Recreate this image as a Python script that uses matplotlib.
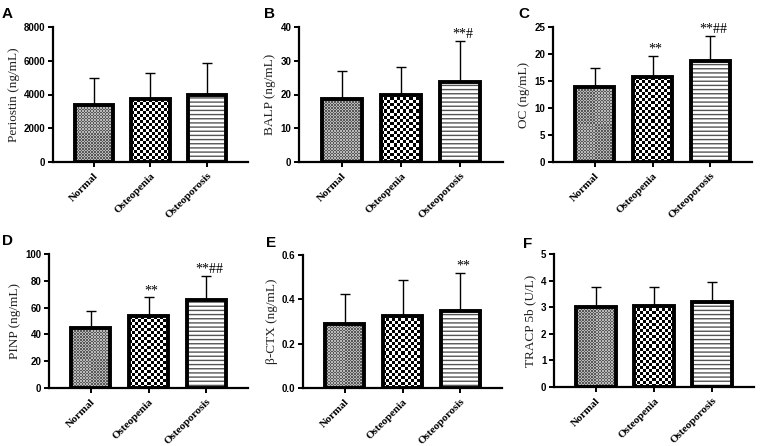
import numpy as np
import matplotlib
matplotlib.use("Agg")
import matplotlib.pyplot as plt

groups = ["Normal", "Osteopenia", "Osteoporosis"]

periostin = [3400, 3720, 3950]
periostin_sd = [1600, 1560, 1920]
balp = [18.8, 20.0, 23.6]
balp_sd = [8.2, 8.1, 12.3]
oc = [13.95, 15.7, 18.7]
oc_sd = [3.45, 4.0, 4.7]
pinp = [44.8, 53.5, 65.9]
pinp_sd = [12.4, 14.2, 17.4]
ctx = [0.288, 0.327, 0.348]
ctx_sd = [0.135, 0.158, 0.171]
tracp = [2.99, 3.06, 3.18]
tracp_sd = [0.76, 0.69, 0.75]

panels = [
    ("A", "Periostin (ng/mL)", periostin, periostin_sd, (0, 8000), [0, 2000, 4000, 6000, 8000], "%d", ["", "", ""]),
    ("B", "BALP (ng/mL)", balp, balp_sd, (0, 40), [0, 10, 20, 30, 40], "%d", ["", "", "**#"]),
    ("C", "OC (ng/mL)", oc, oc_sd, (0, 25), [0, 5, 10, 15, 20, 25], "%d", ["", "**", "**##"]),
    ("D", "PINP (ng/mL)", pinp, pinp_sd, (0, 100), [0, 20, 40, 60, 80, 100], "%d", ["", "**", "**##"]),
    ("E", "\u03b2-CTX (ng/mL)", ctx, ctx_sd, (0, 0.6), [0.0, 0.2, 0.4, 0.6], "%.1f", ["", "", "**"]),
    ("F", "TRACP 5b (U/L)", tracp, tracp_sd, (0, 5), [0, 1, 2, 3, 4, 5], "%d", ["", "", ""]),
]

W, H = 764, 446
# axes boxes in pixels: left, right, top, bottom
boxes = [
    (53, 248, 27, 162), (299, 503, 27, 162), (553, 752, 27, 162),
    (49, 248, 254, 388), (303, 502, 255, 388), (554, 754, 254, 387),
]
letters_xy = [(2, 7), (264, 7), (518, 7), (2, 234), (266, 236), (523, 237)]

serif = "Liberation Serif"
sans = "Liberation Sans"


def checker_fill(ax, bar, cell_px, lo, hi):
    # checkerboard fill clipped to the bar
    x0, y0 = bar.get_x(), bar.get_y()
    w, h = bar.get_width(), bar.get_height()
    p0 = ax.transData.transform((x0, y0))
    p1 = ax.transData.transform((x0 + w, y0 + h))
    nx = max(1, int(round((p1[0] - p0[0]) / cell_px)))
    ny = max(1, int(round((p1[1] - p0[1]) / cell_px)))
    img = (np.indices((ny, nx)).sum(axis=0) % 2) * (hi - lo) + lo
    im = ax.imshow(img, cmap="gray", vmin=0, vmax=1, extent=(x0, x0 + w, y0, y0 + h),
                   interpolation="nearest", aspect="auto", zorder=2)
    im.set_clip_path(bar)


fig = plt.figure(figsize=(W / 100, H / 100), dpi=100)

for (letter, ylabel, vals, sds, ylim, yticks, fmt, marks), (l, r, t, b), (lx, ly) in zip(panels, boxes, letters_xy):
    ax = fig.add_axes([l / W, 1 - b / H, (r - l) / W, (b - t) / H])
    x = np.arange(len(groups))
    ax.errorbar(x, vals, yerr=[np.zeros(3), sds], fmt="none", ecolor="black",
                elinewidth=1.0, capsize=3.6, capthick=1.0, zorder=1)
    fills = ax.bar(x, vals, width=0.68, color="white", edgecolor="none", zorder=1.5)
    ax.set_xlim(-0.72, 2.72)
    ax.set_ylim(*ylim)
    checker_fill(ax, fills[0], 1.5, 0.35, 0.72)
    checker_fill(ax, fills[1], 3.0, 0.0, 1.0)
    ax.bar(x[2:], vals[2:], width=0.68, color="white", edgecolor="#555555",
           hatch="----", linewidth=0, zorder=2)
    ax.bar(x, vals, width=0.68, color="none", edgecolor="black", linewidth=2.8, zorder=3)

    for xi, v, s, m in zip(x, vals, sds, marks):
        if m:
            ax.text(xi + 0.05, v + s, m, ha="center", va="bottom", fontsize=10,
                    family=serif, color="black", zorder=4)

    ax.spines["top"].set_visible(False)
    ax.spines["right"].set_visible(False)
    ax.spines["left"].set_linewidth(1.6)
    ax.spines["bottom"].set_linewidth(1.6)
    ax.set_yticks(yticks)
    ax.set_yticklabels([fmt % v for v in yticks], fontsize=7, fontweight="bold", family=sans)
    ax.set_xticks(x)
    ax.set_xticklabels(groups, rotation=45, ha="right", rotation_mode="anchor",
                       fontsize=8, fontweight="bold", family=serif)
    ax.tick_params(axis="both", width=1.4, length=3.5, pad=2)
    ax.tick_params(axis="x", pad=3)
    ax.set_ylabel(ylabel, fontsize=9.5, family=serif, color="#222222", labelpad=3)

    fig.text(lx / W, 1 - ly / H, letter, fontsize=11, fontweight="bold", family=sans,
             ha="left", va="top")

fig.savefig("out.png", dpi=100)
